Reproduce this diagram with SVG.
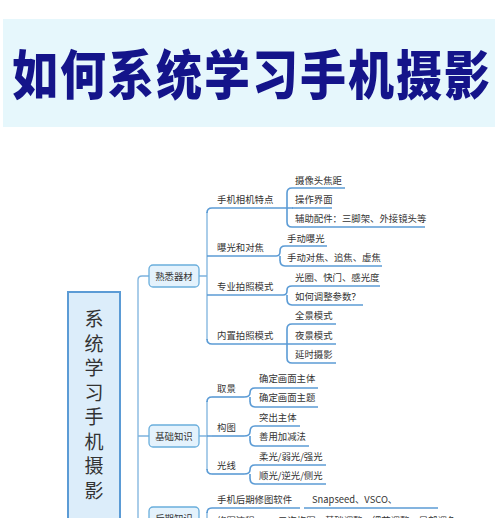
<svg xmlns="http://www.w3.org/2000/svg" width="500" height="518" viewBox="0 0 500 518">
<style>
.t{font-family:"Noto Sans CJK SC","Noto Sans",sans-serif;font-size:9.4px;fill:#333}
.ul{stroke:#5b9bd5;stroke-width:1.6;fill:none}
.cn{stroke:#7db3de;stroke-width:1.3;fill:none}
.box{fill:#e4f2fc;stroke:#6aaedc;stroke-width:1.3}
.title{font-family:"Noto Sans CJK SC",sans-serif;font-weight:900;font-size:46px;fill:#14148a}
.mt{font-family:"Noto Sans CJK SC",sans-serif;font-size:19px;fill:#333;text-anchor:middle}
</style>
<rect width="500" height="518" fill="#fff"/>
<g id="title">
<rect x="3" y="19" width="492" height="108" fill="#e6f7fc"/>
<text class="title" x="12" y="0" transform="translate(0,95) scale(1,1.17)" textLength="478" lengthAdjust="spacing">如何系统学习手机摄影</text>
</g>
<g id="connectors">
<path class="cn" d="M149 276 H142 Q138 276 138 280 V518 M138 436 H149"/>
<path class="cn" d="M199 276 H207 M207 212 V340 M199 436 H207 M207 401 V470 M207 512 V518"/>
<path class="ul" d="M212 208 Q207 208 207 213 M212 344 Q207 344 207 339 M212 397 Q207 397 207 402 M212 474 Q207 474 207 469 M212 508 Q207 508 207 513"/>
<path class="ul" d="M207 256 H212 M207 295 H212 M207 436 H212"/>
<path class="ul" d="M283 208 H293 M287 193 Q287 188 292 188 M287 193 V222 Q287 227 292 227"/>
<path class="ul" d="M276 256 Q280 256 280 252 V251 Q280 246 285 246 M280 260 Q280 266 285 266 M280 256 V261"/>
<path class="ul" d="M283 295 Q287 295 287 291 V290 Q287 286 292 286 M287 299 Q287 305 292 305 M287 295 V300"/>
<path class="ul" d="M283 344 H292 M287 329 Q287 324 292 324 M287 329 V358 Q287 363 292 363"/>
<path class="ul" d="M244 397 Q250 397 250 393 Q250 388 255 388 M250 401 Q250 407 255 407 M250 397 V402"/>
<path class="ul" d="M244 436 Q250 436 250 432 Q250 426 255 426 M250 440 Q250 446 255 446 M250 436 V441"/>
<path class="ul" d="M244 474 Q250 474 250 470 Q250 465 255 465 M250 478 Q250 484 255 484 M250 474 V479"/>
</g>
<g id="main">
<rect x="68" y="292" width="52" height="240" fill="#dcedfa" stroke="#5b9bd5" stroke-width="2"/>
<text class="mt" x="94" y="326">系</text>
<text class="mt" x="94" y="350.5">统</text>
<text class="mt" x="94" y="375">学</text>
<text class="mt" x="94" y="399.5">习</text>
<text class="mt" x="94" y="424">手</text>
<text class="mt" x="94" y="448.5">机</text>
<text class="mt" x="94" y="473">摄</text>
<text class="mt" x="94" y="497.5">影</text>
</g>
<g id="n-shuxi"><rect class="box" x="149" y="265" width="50" height="22" rx="4"/><text class="t" x="174" y="279.5" text-anchor="middle">熟悉器材</text></g>
<g id="n-jichu"><rect class="box" x="149" y="425" width="50" height="22" rx="4"/><text class="t" x="174" y="439.5" text-anchor="middle">基础知识</text></g>
<g id="n-houqi"><rect class="box" x="149" y="507" width="50" height="22" rx="4"/><text class="t" x="174" y="521.5" text-anchor="middle">后期知识</text></g>

<g id="n-tedian"><text class="t" x="217" y="203">手机相机特点</text><path class="ul" d="M212 208 H283"/></g>
<g id="n-baoguang"><text class="t" x="217" y="251">曝光和对焦</text><path class="ul" d="M212 256 H276"/></g>
<g id="n-zhuanye"><text class="t" x="217" y="290">专业拍照模式</text><path class="ul" d="M212 295 H283"/></g>
<g id="n-neizhi"><text class="t" x="217" y="339">内置拍照模式</text><path class="ul" d="M212 344 H283"/></g>

<g id="n-jiaoju"><text class="t" x="295" y="184">摄像头焦距</text><path class="ul" d="M292 188 H345"/></g>
<g id="n-jiemian"><text class="t" x="295" y="203">操作界面</text><path class="ul" d="M292 208 H332"/></g>
<g id="n-fuzhu"><text class="t" x="295" y="222">辅助配件：三脚架、外接镜头等</text><path class="ul" d="M292 227 H425"/></g>

<g id="n-sdbg"><text class="t" x="287" y="242">手动曝光</text><path class="ul" d="M285 246 H327"/></g>
<g id="n-sddj"><text class="t" x="287" y="261">手动对焦、追焦、虚焦</text><path class="ul" d="M285 266 H382"/></g>

<g id="n-guangquan"><text class="t" x="295" y="281">光圈、快门、感光度</text><path class="ul" d="M292 286 H380"/></g>
<g id="n-tiaozheng"><text class="t" x="295" y="300">如何调整参数？</text><path class="ul" d="M292 305 H363"/></g>

<g id="n-quanjing"><text class="t" x="295" y="319">全景模式</text><path class="ul" d="M292 324 H336"/></g>
<g id="n-yejing"><text class="t" x="295" y="339">夜景模式</text><path class="ul" d="M292 344 H336"/></g>
<g id="n-yanshi"><text class="t" x="295" y="358">延时摄影</text><path class="ul" d="M292 363 H336"/></g>

<g id="n-qujing"><text class="t" x="217" y="392">取景</text><path class="ul" d="M212 397 H244"/></g>
<g id="n-goutu"><text class="t" x="217" y="431">构图</text><path class="ul" d="M212 436 H244"/></g>
<g id="n-guangxian"><text class="t" x="217" y="469">光线</text><path class="ul" d="M212 474 H244"/></g>

<g id="n-zhuti1"><text class="t" x="259" y="382">确定画面主体</text><path class="ul" d="M255 388 H318"/></g>
<g id="n-zhuti2"><text class="t" x="259" y="401">确定画面主题</text><path class="ul" d="M255 407 H318"/></g>
<g id="n-tuchu"><text class="t" x="259" y="421">突出主体</text><path class="ul" d="M255 426 H300"/></g>
<g id="n-jiajian"><text class="t" x="259" y="440">善用加减法</text><path class="ul" d="M255 446 H309"/></g>
<g id="n-rouguang"><text class="t" x="259" y="460">柔光/弱光/强光</text><path class="ul" d="M255 465 H326"/></g>
<g id="n-shunguang"><text class="t" x="259" y="479">顺光/逆光/侧光</text><path class="ul" d="M255 484 H326"/></g>

<g id="n-ruanjian"><text class="t" x="217" y="503">手机后期修图软件</text><path class="ul" d="M212 508 H300"/></g>
<g id="n-snapseed"><text class="t" x="312" y="503">Snapseed、VSCO、</text><path class="ul" d="M304 508 H438"/></g>
<g id="n-liucheng"><text class="t" x="217" y="524">修图流程</text></g>
<g id="n-liucheng2"><text class="t" x="278" y="524">二次构图、基础调整、细节调整、局部调色</text></g>
</svg>
